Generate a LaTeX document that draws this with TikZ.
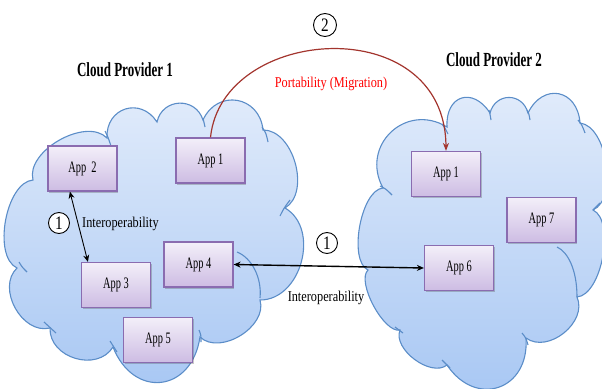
\documentclass[tikz,border=0pt]{standalone}
\usepackage{fontspec}
\setmainfont{Liberation Serif}
\usepackage{graphicx}
\usetikzlibrary{arrows.meta,shadows,calc}
\newcommand{\cnd}[2][0.65]{\scalebox{#1}[1]{#2}}
\definecolor{cloudline}{HTML}{5B8DC8}
\definecolor{cloudtop}{HTML}{E2ECFB}
\definecolor{cloudbot}{HTML}{A6C6F3}
\definecolor{boxline}{HTML}{8A6CB0}
\definecolor{boxtop}{HTML}{F3EFF9}
\definecolor{boxbot}{HTML}{CDBCE3}
\definecolor{migr}{HTML}{A3352E}
\begin{document}
\begin{tikzpicture}[x=1pt,y=1pt,
  bmp/.style={bend left=75, looseness=#1},
  cloudshape/.style={draw=cloudline, line width=1.1pt, top color=cloudtop, bottom color=cloudbot},
  seam/.style={draw=cloudline, line width=1.1pt},
  appbox/.style={draw=boxline, line width=1.2pt, top color=boxtop, bottom color=boxbot,
    minimum width=69pt, minimum height=45pt, inner sep=0pt,
    font=\fontsize{16}{17}\selectfont,
    drop shadow={shadow xshift=1.2pt, shadow yshift=-1.5pt, opacity=0.3, fill=black!70}},
  numcirc/.style={circle, draw=black, line width=0.9pt, fill=white, minimum size=21pt, inner sep=0pt,
    font=\fontsize{19}{20}\selectfont},
  title/.style={font=\fontsize{20}{22}\selectfont\bfseries, inner sep=0pt},
  lbl/.style={font=\fontsize{15}{16}\selectfont, inner sep=0pt},
  biarrow/.style={{Stealth[length=7pt,width=6pt]}-{Stealth[length=7pt,width=6pt]}, draw=black}
]
\useasboundingbox (0,0) rectangle (602,-388);
\clip (0,0) rectangle (602,-388);

% Cloud 1
\path[cloudshape] (33,-180) to[bmp=0.9] (107,-138) to[bmp=1.48] (157,-122)
  to[bmp=1.37] (203,-120) to[bmp=1.45] (263,-130) to[bmp=0.96] (285,-208)
  to[bmp=1.11] (260,-300) to[bmp=1.0] (200,-337) to[bmp=1.64] (113,-347)
  to[bmp=1.17] (50,-328) to[bmp=1.08] (17,-268) to[bmp=0.78] (33,-180) -- cycle;
\draw[seam] (105,-131) .. controls (108,-137) .. (111,-146);
\draw[seam] (203,-118) .. controls (204,-122) .. (205,-127);
\draw[seam] (262,-127) .. controls (266,-133) .. (268,-142);
\draw[seam] (280,-216) .. controls (284,-208) .. (290,-200);
\draw[seam] (237,-252) .. controls (252,-258) and (262,-278) .. (260,-298);
\draw[seam] (199,-330) .. controls (201,-335) .. (201,-342);
\draw[seam] (110,-341) .. controls (113,-346) .. (117,-352);
\draw[seam] (44,-322) .. controls (50,-327) .. (56,-333);
\draw[seam] (19,-262) .. controls (22,-267) .. (27,-272);

% Cloud 2
\path[cloudshape] (383,-188) to[bmp=1.4] (447,-127) to[bmp=1.8] (490,-113)
  to[bmp=1.45] (528,-113) to[bmp=1.65] (580,-123) to[bmp=0.8] (593,-210)
  to[bmp=0.72] (577,-297) to[bmp=1.07] (526,-338) to[bmp=1.6] (447,-365)
  to[bmp=0.9] (400,-330) to[bmp=0.62] (368,-270) to[bmp=0.68] (383,-188) -- cycle;
\draw[seam] (442,-124) .. controls (445,-128) .. (448,-134);
\draw[seam] (489,-110) .. controls (490,-114) .. (491,-120);
\draw[seam] (527,-110) .. controls (529,-114) .. (530,-120);
\draw[seam] (578,-120) .. controls (582,-125) .. (585,-133);
\draw[seam] (593,-210) .. controls (596,-206) .. (600,-203);
\draw[seam] (557,-247) .. controls (568,-252) and (577,-270) .. (577,-297);
\draw[seam] (522,-333) .. controls (526,-338) .. (528,-345);
\draw[seam] (442,-360) .. controls (446,-364) .. (450,-368);
\draw[seam] (395,-327) .. controls (399,-330) .. (403,-333);
\draw[seam] (380,-186) .. controls (386,-189) .. (392,-195);

% Titles
\node[title] (t1) at (125,-70) {\cnd{Cloud Provider 1}};
\node[title] (t2) at (494,-60) {\cnd{Cloud Provider 2}};

% App boxes
\node[appbox] (app2)  at (82.5,-168.5) {\cnd{App\ \ 2}};
\node[appbox] (app1a) at (210.5,-160.5) {\cnd{App 1}};
\node[appbox] (app3)  at (116,-285) {\cnd{App 3}};
\node[appbox] (app4)  at (198.5,-264.5) {\cnd{App 4}};
\node[appbox] (app5)  at (158,-340) {\cnd{App 5}};
\node[appbox] (app1b) at (446,-174) {\cnd{App 1}};
\node[appbox] (app7)  at (541.5,-220) {\cnd{App 7}};
\node[appbox] (app6)  at (459,-268) {\cnd{App 6}};

% Interoperability inside cloud 1
\draw[biarrow, line width=0.9pt] ($(app2.south west)!0.32!(app2.south east)$) -- ($(app3.north west)!0.1!(app3.north east)$);
\node[numcirc] (n1a) at (59,-223) {\cnd[0.8]{1}};
\node[lbl, anchor=west] (i1) at (82,-224) {\cnd[0.82]{Interoperability}};

% Interoperability across clouds
\draw[biarrow, line width=1.4pt] (app4.east) -- (app6.west);
\node[numcirc] (n1b) at (327,-243) {\cnd[0.8]{1}};
\node[lbl] (i2) at (326,-298) {\cnd[0.82]{Interoperability}};

% Portability
\draw[migr, line width=1.2pt, -{Stealth[length=8pt,width=6pt]}] (app1a.north) .. controls (222,-25) and (445,-10) .. (app1b.north);
\node[numcirc, minimum size=23pt] (n2) at (325,-25) {\cnd[0.8]{2}};
\node[lbl, text=red] (port) at (331,-84) {\cnd[0.82]{Portability (Migration)}};
\end{tikzpicture}
\end{document}
